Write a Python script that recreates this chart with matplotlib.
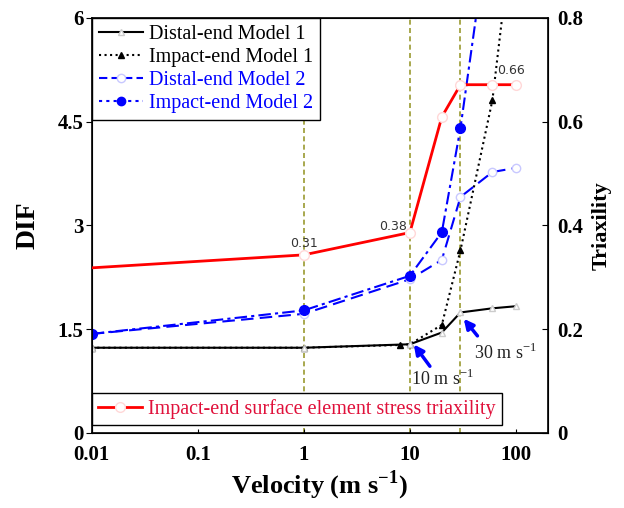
import matplotlib
matplotlib.use("Agg")
import matplotlib.pyplot as plt
from matplotlib.lines import Line2D
import numpy as np

plt.rcParams['font.family'] = ['Liberation Serif', 'DejaVu Serif']
plt.rcParams['mathtext.fontset'] = 'custom'
plt.rcParams['mathtext.rm'] = 'Liberation Serif'
plt.rcParams['mathtext.bf'] = 'Liberation Serif:bold'

# Data
x_d1 = [0.01, 1, 10, 20, 30, 60, 100]
y_d1 = [1.23, 1.23, 1.28, 1.45, 1.74, 1.80, 1.83]

x_i1 = [0.01, 1, 8, 10, 20, 30, 60, 100]
y_i1 = [1.23, 1.23, 1.27, 1.28, 1.56, 2.64, 4.81, 7.7]

x_d2 = [0.01, 1, 10, 20, 30, 60, 100]
y_d2 = [1.43, 1.72, 2.22, 2.50, 3.41, 3.77, 3.83]

x_i2 = [0.01, 1, 10, 20, 30, 60]
y_i2 = [1.43, 1.77, 2.27, 2.90, 4.41, 7.7]

x_tri = [0.01, 1, 10, 20, 30, 60, 100]
y_tri = [0.318, 0.343, 0.386, 0.609, 0.671, 0.671, 0.671]

x_ticks = [0.01, 0.1, 1, 10, 100]
x_ticklabels = ['0.01', '0.1', '1', '10', '100']
y_ticks = [0, 1.5, 3, 4.5, 6]
y_ticklabels = ['0', '1.5', '3', '4.5', '6']
y2_ticks = [0, 0.2, 0.4, 0.6, 0.8]
y2_ticklabels = ['0', '0.2', '0.4', '0.6', '0.8']
vlines = [1, 10, 30]

fig = plt.figure(figsize=(6.24, 5.08), dpi=100)
ax = fig.add_axes([0.147, 0.148, 0.731, 0.817])
ax2 = ax.twinx()

ax.set_xscale('log')
ax.set_xlim(0.01, 200)
ax.set_ylim(0, 6)
ax2.set_ylim(0, 0.8)

for v in vlines:
    ax.axvline(v, color='#9a9a30', ls=(0, (3, 2)), lw=1.2, zorder=1)

ax.plot(x_i1, y_i1, color='black', ls=':', lw=1.5, marker='^', ms=5,
        mfc='black', mec='black', zorder=3)
ax.plot(x_d1, y_d1, color='black', ls='-', lw=1.5, marker='^', ms=5,
        mfc='white', mec='#cccccc', zorder=4)
ax.plot(x_d2, y_d2, color='blue', ls=(0, (6, 3)), lw=1.5, marker='o', ms=6,
        mfc='white', mec='#c8c8ff', zorder=3)
ax.plot(x_i2, y_i2, color='blue', ls=(0, (6, 2, 1.5, 2)), lw=1.5, marker='o', ms=7,
        mfc='blue', mec='blue', zorder=3)

ax2.plot(x_tri, y_tri, color='red', ls='-', lw=2, marker='o', ms=7,
         mfc='white', mec='#ffd8d8', markevery=list(range(1, len(x_tri))), zorder=5)

ax2.text(1, 0.352, '0.31', fontsize=9, family='DejaVu Sans', color='#333333',
         ha='center', va='bottom')
ax2.text(9.4, 0.386, '0.38', fontsize=9, family='DejaVu Sans', color='#333333',
         ha='right', va='bottom')
ax2.text(66, 0.685, '0.66', fontsize=9, family='DejaVu Sans', color='#333333',
         ha='left', va='bottom')

# arrows
ax.annotate('', xy=(10.5, 1.31), xytext=(16, 0.93),
            arrowprops=dict(arrowstyle='-|>', color='blue', lw=2.5, mutation_scale=14))
ax.text(10.2, 0.78, '10 m s$^{-1}$', fontsize=13, ha='left', va='center', color='#222222')
ax.annotate('', xy=(31, 1.68), xytext=(45, 1.37),
            arrowprops=dict(arrowstyle='-|>', color='blue', lw=2.5, mutation_scale=14))
ax.text(40, 1.15, '30 m s$^{-1}$', fontsize=13, ha='left', va='center', color='#222222')

ax.set_xticks(x_ticks)
ax.set_xticklabels(x_ticklabels)
ax.xaxis.set_minor_locator(matplotlib.ticker.NullLocator())
ax.set_yticks(y_ticks)
ax.set_yticklabels(y_ticklabels)
ax2.set_yticks(y2_ticks)
ax2.set_yticklabels(y2_ticklabels)

for a in (ax, ax2):
    for lab in a.get_xticklabels() + a.get_yticklabels():
        lab.set_fontweight('bold')
        lab.set_fontsize(15)
ax.tick_params(axis='y', direction='out', length=4, pad=2)
ax.tick_params(axis='x', direction='in', length=3, pad=9, colors='black')
ax2.tick_params(axis='y', direction='in', length=4, pad=7)

for s in ax.spines.values():
    s.set_linewidth(1.2)

ax.set_ylabel('DIF', fontsize=20, fontweight='bold', labelpad=12)
ax2.set_ylabel('Triaxility', fontsize=16, fontweight='bold', labelpad=6)
ax.set_xlabel('Velocity (m s$^{\\mathbf{-1}}$)', fontsize=19, fontweight='bold', labelpad=2)

h1 = [
    Line2D([], [], color='black', ls='-', lw=1.5, marker='^', ms=5, mfc='white', mec='#cccccc'),
    Line2D([], [], color='black', ls=':', lw=1.5, marker='^', ms=5, mfc='black', mec='black'),
    Line2D([], [], color='blue', ls=(0, (4, 2)), lw=1.5, marker='o', ms=6, mfc='white', mec='#c8c8ff'),
    Line2D([], [], color='blue', ls=(0, (1.5, 2)), lw=1.5, marker='o', ms=6, mfc='blue', mec='blue'),
]
l1 = ['Distal-end Model 1', 'Impact-end Model 1', 'Distal-end Model 2', 'Impact-end Model 2']
leg1 = ax2.legend(h1, l1, loc='upper left', bbox_to_anchor=(0.0, 1.0), fontsize=14.5,
                  frameon=True, fancybox=False, edgecolor='black', framealpha=1,
                  handlelength=2.2, handletextpad=0.3, labelspacing=0.2,
                  borderpad=0.35, borderaxespad=0.0)
leg1.get_frame().set_linewidth(1.0)
for t, c in zip(leg1.get_texts(), ['black', 'black', 'blue', 'blue']):
    t.set_color(c)
ax2.add_artist(leg1)

h2 = [Line2D([], [], color='red', ls='-', lw=2, marker='o', ms=7, mfc='white', mec='#ffd8d8')]
leg2 = ax2.legend(h2, ['Impact-end surface element stress triaxility'],
                  loc='lower left', bbox_to_anchor=(0.0, 0.018), fontsize=14.5,
                  frameon=True, fancybox=False, edgecolor='black', framealpha=1,
                  handlelength=2.2, handletextpad=0.3, borderpad=0.3, borderaxespad=0.0)
leg2.get_frame().set_linewidth(1.0)
leg2.get_texts()[0].set_color('#e0103a')

fig.savefig('out.png', dpi=100)
